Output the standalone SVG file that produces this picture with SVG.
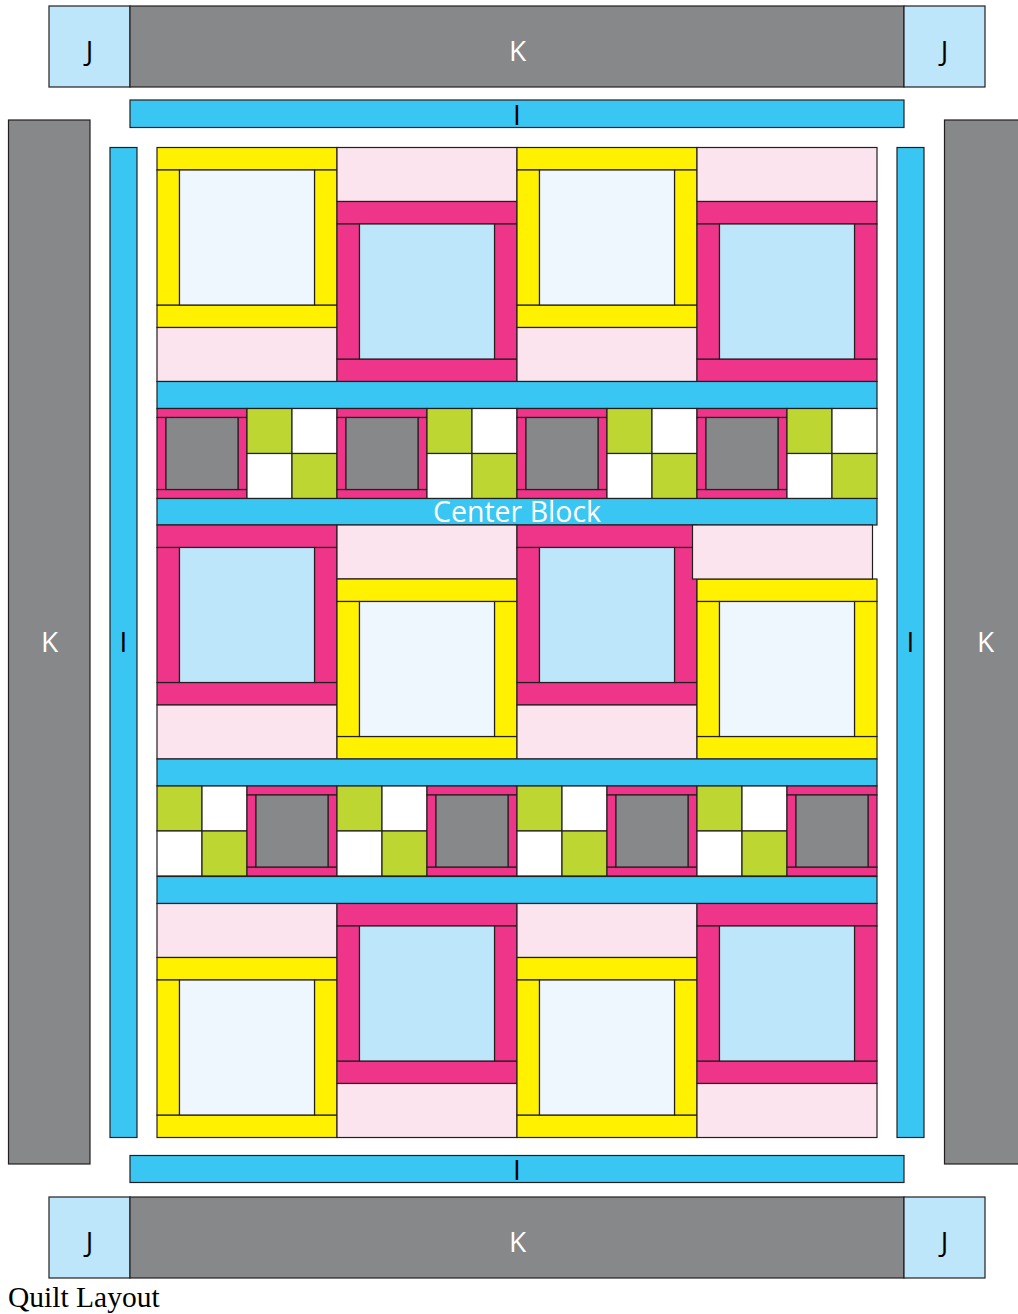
<svg xmlns="http://www.w3.org/2000/svg" xmlns:xlink="http://www.w3.org/1999/xlink" width="1018" height="1314" viewBox="0 0 1018 1314">
<style>
rect{stroke:#231f20;stroke-width:1.2}
.g{fill:#87888a}.lb{fill:#bde6fa}.c{fill:#3ac6f2}.y{fill:#fff100}.m{fill:#ee3589}
.p{fill:#fce4ee}.w{fill:#eff7fe}.gr{fill:#bdd631}.wh{fill:#ffffff}
text{font-family:"Open Sans","Noto Sans","Liberation Sans",sans-serif;font-size:28px;text-anchor:middle}
.lt{fill:#fff}.dk{fill:#000}
</style>
<defs>
<g id="yb">
<rect class="y" x="0" y="0" width="180" height="22.5"/>
<rect class="y" x="0" y="157.5" width="180" height="22.5"/>
<rect class="y" x="0" y="22.5" width="22.5" height="135"/>
<rect class="y" x="157.5" y="22.5" width="22.5" height="135"/>
<rect class="w" x="22.5" y="22.5" width="135" height="135"/>
</g>
<g id="mb">
<rect class="m" x="0" y="0" width="180" height="22.5"/>
<rect class="m" x="0" y="157.5" width="180" height="22.5"/>
<rect class="m" x="0" y="22.5" width="22.5" height="135"/>
<rect class="m" x="157.5" y="22.5" width="22.5" height="135"/>
<rect class="lb" x="22.5" y="22.5" width="135" height="135"/>
</g>
<rect id="pk" class="p" x="0" y="0" width="180" height="54"/>
<g id="mg">
<rect class="m" x="0" y="0" width="90" height="9"/>
<rect class="m" x="0" y="81" width="90" height="9"/>
<rect class="m" x="0" y="9" width="9" height="72"/>
<rect class="m" x="81" y="9" width="9" height="72"/>
<rect class="g" x="9" y="9" width="72" height="72"/>
</g>
<g id="fp">
<rect class="gr" x="0" y="0" width="45" height="45"/>
<rect class="wh" x="45" y="0" width="45" height="45"/>
<rect class="wh" x="0" y="45" width="45" height="45"/>
<rect class="gr" x="45" y="45" width="45" height="45"/>
</g>
</defs>

<g id="borders">
<g id="top-border">
<rect class="lb" x="49" y="6" width="81" height="81"/>
<rect class="g" x="130" y="6" width="774" height="81"/>
<rect class="lb" x="904" y="6" width="81" height="81"/>
<text class="dk" x="89.5" y="61">J</text>
<text class="lt" x="517.5" y="61">K</text>
<text class="dk" x="944.5" y="61">J</text>
</g>
<g id="top-I">
<rect class="c" x="130" y="100" width="774" height="27.5"/>
<text class="dk" x="517" y="125">I</text>
</g>
<g id="left-K">
<rect class="g" x="8.5" y="120" width="81.5" height="1044"/>
<text class="lt" x="49.5" y="652">K</text>
</g>
<g id="left-I">
<rect class="c" x="110" y="147.5" width="27" height="990"/>
<text class="dk" x="123.5" y="652">I</text>
</g>
<g id="right-I">
<rect class="c" x="897" y="147.5" width="27" height="990"/>
<text class="dk" x="910.5" y="652">I</text>
</g>
<g id="right-K">
<rect class="g" x="944.5" y="120" width="82" height="1044"/>
<text class="lt" x="985.5" y="652">K</text>
</g>
<g id="bottom-I">
<rect class="c" x="130" y="1155.5" width="774" height="27"/>
<text class="dk" x="517" y="1180">I</text>
</g>
<g id="bottom-border">
<rect class="lb" x="49" y="1197" width="81" height="81"/>
<rect class="g" x="130" y="1197" width="774" height="81"/>
<rect class="lb" x="904" y="1197" width="81" height="81"/>
<text class="dk" x="89.5" y="1252">J</text>
<text class="lt" x="517.5" y="1252">K</text>
<text class="dk" x="944.5" y="1252">J</text>
</g>
</g>

<g id="center-block">
<g id="row1">
<use xlink:href="#yb" x="157" y="147.5"/><use xlink:href="#pk" x="157" y="327.5"/>
<use xlink:href="#pk" x="337" y="147.5"/><use xlink:href="#mb" x="337" y="201.5"/>
<use xlink:href="#yb" x="517" y="147.5"/><use xlink:href="#pk" x="517" y="327.5"/>
<use xlink:href="#pk" x="697" y="147.5"/><use xlink:href="#mb" x="697" y="201.5"/>
</g>
<rect class="c" x="157" y="381.5" width="720" height="27"/>
<g id="checker1">
<use xlink:href="#mg" x="157" y="408.5"/><use xlink:href="#fp" x="247" y="408.5"/>
<use xlink:href="#mg" x="337" y="408.5"/><use xlink:href="#fp" x="427" y="408.5"/>
<use xlink:href="#mg" x="517" y="408.5"/><use xlink:href="#fp" x="607" y="408.5"/>
<use xlink:href="#mg" x="697" y="408.5"/><use xlink:href="#fp" x="787" y="408.5"/>
</g>
<g id="center-sash">
<rect class="c" x="157" y="498.5" width="720" height="26.5"/>
<text class="lt" x="517" y="522" style="font-size:28.5px">Center Block</text>
</g>
<g id="row2">
<use xlink:href="#mb" x="157" y="525"/><use xlink:href="#pk" x="157" y="705"/>
<use xlink:href="#pk" x="337" y="525"/><use xlink:href="#yb" x="337" y="579"/>
<use xlink:href="#mb" x="517" y="525"/><use xlink:href="#pk" x="517" y="705"/>
<use xlink:href="#yb" x="697" y="579"/><use xlink:href="#pk" x="692.5" y="525"/>
</g>
<rect class="c" x="157" y="759" width="720" height="27"/>
<g id="checker2">
<use xlink:href="#fp" x="157" y="786"/><use xlink:href="#mg" x="247" y="786"/>
<use xlink:href="#fp" x="337" y="786"/><use xlink:href="#mg" x="427" y="786"/>
<use xlink:href="#fp" x="517" y="786"/><use xlink:href="#mg" x="607" y="786"/>
<use xlink:href="#fp" x="697" y="786"/><use xlink:href="#mg" x="787" y="786"/>
</g>
<rect class="c" x="157" y="876.5" width="720" height="27"/>
<g id="row3">
<use xlink:href="#pk" x="157" y="903.5"/><use xlink:href="#yb" x="157" y="957.5"/>
<use xlink:href="#mb" x="337" y="903.5"/><use xlink:href="#pk" x="337" y="1083.5"/>
<use xlink:href="#pk" x="517" y="903.5"/><use xlink:href="#yb" x="517" y="957.5"/>
<use xlink:href="#mb" x="697" y="903.5"/><use xlink:href="#pk" x="697" y="1083.5"/>
</g>
</g>

<text id="title" x="8" y="1307" style="font-family:'Liberation Serif','Times New Roman',serif;font-size:29.5px;text-anchor:start;fill:#000">Quilt Layout</text>
</svg>
